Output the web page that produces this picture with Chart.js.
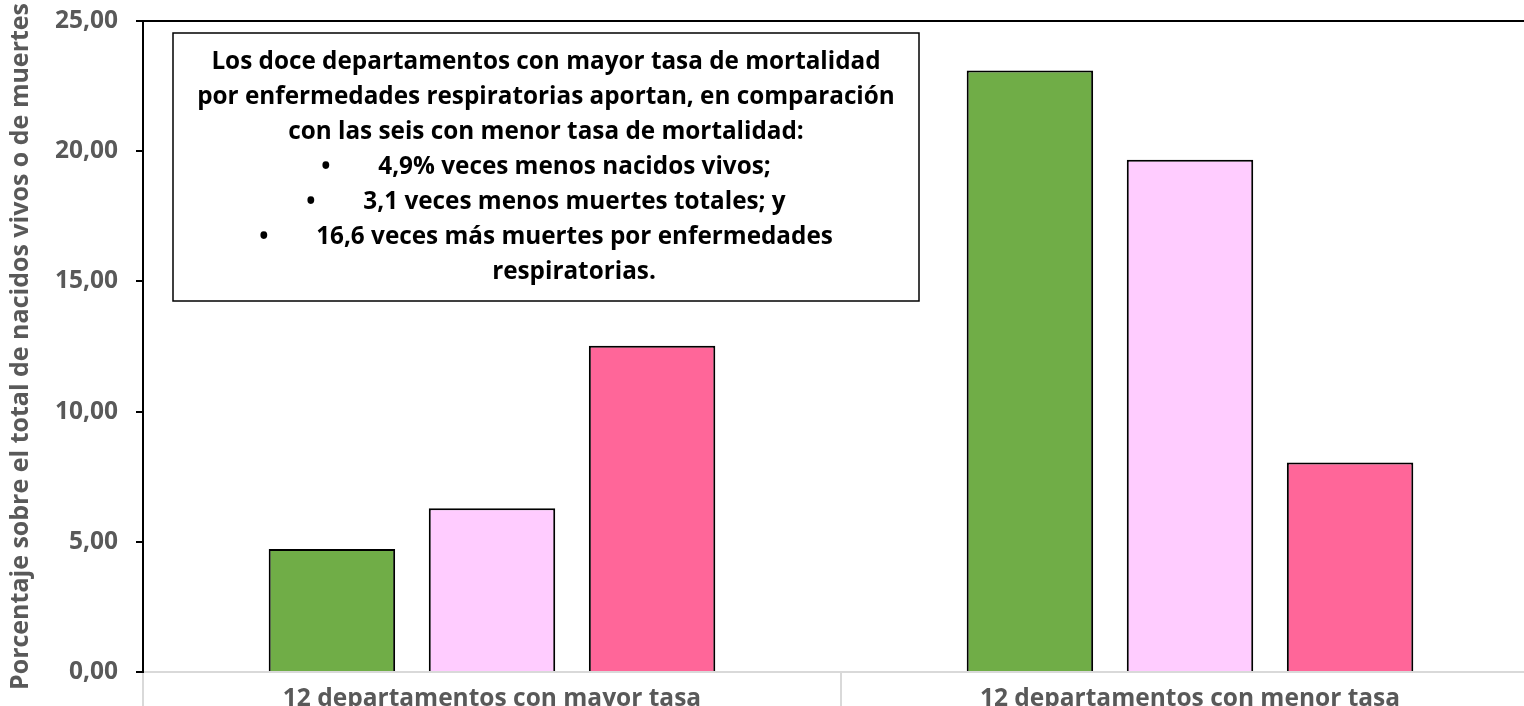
<!DOCTYPE html>
<html>
<head>
<meta charset="utf-8">
<script src="https://cdn.jsdelivr.net/npm/chart.js@4"></script>
<style>
  html, body { margin:0; padding:0; background:#fff; overflow:hidden; }
</style>
</head>
<body>
<canvas id="myChart" width="1540" height="722"></canvas>
<script>
const categorias = ['12 departamentos con mayor tasa', '12 departamentos con menor tasa'];
const nacidosVivos = [4.72, 23.1];
const muertesTotales = [6.29, 19.67];
const muertesRespiratorias = [12.53, 8.05];
const ticksY = [0, 5, 10, 15, 20, 25];

const tituloY = 'Porcentaje sobre el total de nacidos vivos o de muertes';
const textoCaja = [
  'Los doce departamentos con mayor tasa de mortalidad',
  'por enfermedades respiratorias aportan, en comparación',
  'con las seis con menor tasa de mortalidad:'
];
const vinetas = [
  '4,9% veces menos nacidos vivos;',
  '3,1 veces menos muertes totales; y',
  '16,6 veces más muertes por enfermedades'
];
const ultimaLinea = 'respiratorias.';

const fuente = "'Open Sans', sans-serif";

// caja de texto dentro del grafico
const cajaTexto = {
  id: 'cajaTexto',
  afterDatasetsDraw(chart) {
    const c = chart.ctx;
    const area = chart.chartArea;
    const x0 = area.left + 30, y0 = area.top + 12;
    const w = 746, h = 268;
    c.save();
    c.fillStyle = '#fff';
    c.fillRect(x0, y0, w, h);
    c.strokeStyle = '#000';
    c.lineWidth = 1.5;
    c.strokeRect(x0, y0, w, h);
    c.fillStyle = '#000';
    c.font = 'bold 24.3px ' + fuente;
    c.textBaseline = 'middle';
    const cx = x0 + w / 2;
    let y = y0 + 29;
    c.textAlign = 'center';
    textoCaja.forEach(t => { c.fillText(t, cx, y); y += 35; });
    const sep = 57;
    vinetas.forEach(t => {
      const tw = c.measureText(t).width;
      const start = cx - (sep + tw) / 2;
      c.textAlign = 'left';
      c.fillText('•', start, y);
      c.fillText(t, start + sep, y);
      y += 35;
    });
    c.textAlign = 'center';
    c.fillText(ultimaLinea, cx + 28, y);
    c.restore();
  }
};

const ctx = document.getElementById('myChart').getContext('2d');
const myChart = new Chart(ctx, {
  type: 'bar',
  data: {
    labels: categorias,
    datasets: [
      { label: 'Nacidos vivos', data: nacidosVivos, backgroundColor: '#70AD47' },
      { label: 'Muertes totales', data: muertesTotales, backgroundColor: '#FFCCFF' },
      { label: 'Muertes por enfermedades respiratorias', data: muertesRespiratorias, backgroundColor: '#FF6699' }
    ]
  },
  options: {
    responsive: false,
    animation: false,
    layout: { padding: { top: 21, right: 1, left: 0, bottom: 0 } },
    datasets: {
      bar: {
        borderColor: '#000',
        borderWidth: 2,
        categoryPercentage: 0.688,
        barPercentage: 0.79
      }
    },
    plugins: {
      legend: { display: false },
      tooltip: { enabled: false }
    },
    scales: {
      x: {
        afterFit: s => { s.height = 50; s.paddingLeft = 0; s.paddingRight = 0; },
        border: { color: '#D9D9D9', width: 2 },
        grid: {
          offset: true,
          drawOnChartArea: false,
          drawTicks: true,
          tickLength: 40,
          color: '#D9D9D9',
          lineWidth: 2
        },
        ticks: {
          color: '#595959',
          padding: -28,
          maxRotation: 0,
          font: { family: fuente, size: 24.5, weight: 'bold' }
        }
      },
      y: {
        min: 0,
        max: 25,
        afterFit: s => { s.width = 143; s.paddingTop = 0; s.paddingBottom = 0; },
        afterBuildTicks: s => { s.ticks = ticksY.map(v => ({ value: v })); },
        border: { color: '#000', width: 2 },
        grid: {
          color: c => c.tick && c.tick.value === 25 ? '#000' : 'rgba(0,0,0,0)',
          lineWidth: 2,
          drawTicks: true,
          tickLength: 7,
          tickColor: '#000'
        },
        ticks: {
          color: '#595959',
          padding: 18,
          font: { family: fuente, size: 24.5, weight: 'bold' },
          callback: v => v.toFixed(2).replace('.', ',')
        },
        title: {
          display: true,
          text: tituloY,
          color: '#595959',
          padding: { top: 6, bottom: 0 },
          font: { family: fuente, size: 25, weight: 'bold' }
        }
      }
    }
  },
  plugins: [cajaTexto]
});
</script>
</body>
</html>
